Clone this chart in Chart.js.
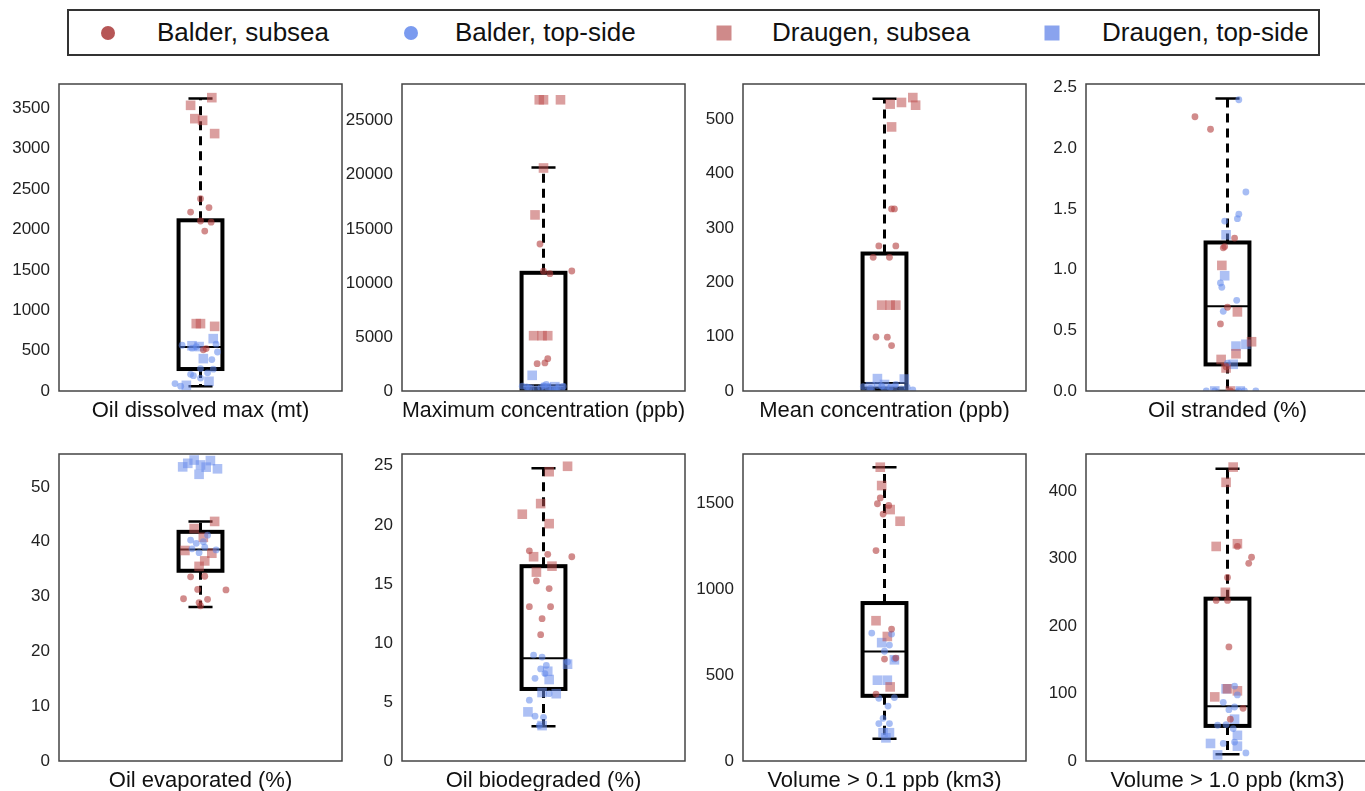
<!DOCTYPE html>
<html>
<head>
<meta charset="utf-8">
<script src="https://cdn.jsdelivr.net/npm/chart.js@4.4.1/dist/chart.umd.min.js"></script>
<style>
  body { margin: 0; width: 1365px; height: 791px; overflow: hidden; background: #fff; font-family: "Liberation Sans", Arial, sans-serif; }
  #legend { position: absolute; left: 67px; top: 9px; width: 1253px; height: 47px; border: 2px solid #333; box-sizing: border-box; }
  .lg-mark { position: absolute; top: 50%; transform: translate(-50%, -50%); }
  .lg-text { position: absolute; top: 50%; transform: translateY(-52%); font-size: 26px; color: #111; white-space: nowrap; }
  canvas { position: absolute; }
</style>
</head>
<body>
<div id="legend"></div>
<div id="panels"></div>
<script>
// ---- data ----
const panelTitles = ["Oil dissolved max (mt)", "Maximum concentration (ppb)", "Mean concentration (ppb)", "Oil stranded (%)",
                     "Oil evaporated (%)", "Oil biodegraded (%)", "Volume > 0.1 ppb (km3)", "Volume > 1.0 ppb (km3)"];
const yMax = [3800, 28400, 565, 2.53, 56, 26, 1790, 455];
const yTicks = [
  [0, 500, 1000, 1500, 2000, 2500, 3000, 3500],
  [0, 5000, 10000, 15000, 20000, 25000],
  [0, 100, 200, 300, 400, 500],
  [0, 0.5, 1.0, 1.5, 2.0, 2.5],
  [0, 10, 20, 30, 40, 50],
  [0, 5, 10, 15, 20, 25],
  [0, 500, 1000, 1500],
  [0, 100, 200, 300, 400]
];
const tickDecimals = [0, 0, 0, 1, 0, 0, 0, 0];
// whisker low, q1, median, q3, whisker high
const boxStats = [
  [58, 272, 545, 2113, 3619],
  [0, 220, 525, 10934, 20687],
  [0, 4.4, 14.7, 253, 538],
  [0, 0.219, 0.698, 1.224, 2.41],
  [28.1, 34.7, 38.6, 41.8, 43.7],
  [2.94, 6.1, 8.7, 16.5, 24.8],
  [130, 380, 638, 921, 1713],
  [10, 52, 81, 240.6, 433]
];

const seriesNames = ["Balder, subsea", "Balder, top-side", "Draugen, subsea", "Draugen, top-side"];

// values per panel, and the horizontal jitter of each point
const balderSubseaY = [
  [2380, 2215, 2270, 2104, 2090, 1980, 525, 510],
  [13600, 11080, 10850, 11100, 2530, 2600, 2990],
  [335, 335, 267, 267, 246, 246, 99.4, 99, 83.6],
  [2.26, 2.157, 1.26, 1.19, 1.18, 0.69, 0.553, 0.2, 0.0],
  [33.6, 33.7, 31.3, 31.2, 29.6, 28.9, 29.5, 28.3],
  [17.8, 17.5, 17.3, 15.25, 14.6, 13.07, 13.07, 12.05, 10.7],
  [1534, 1500, 1440, 1490, 1227, 769, 594, 600, 390],
  [318, 302, 293, 272, 238, 238, 169, 78, 62]
];
const balderSubseaX = [
  [0.0, -0.07, 0.06, 0.0, 0.075, 0.03, 0.04, 0.02],
  [-0.025, 0.0, 0.045, 0.2, -0.045, 0.01, 0.03],
  [0.05, 0.07, -0.04, 0.08, -0.08, 0.035, -0.06, 0.02, 0.05],
  [-0.23, -0.12, 0.05, -0.02, -0.03, 0.0, -0.05, -0.01, 0.02],
  [-0.07, 0.03, -0.02, 0.18, -0.12, -0.01, 0.05, 0.0],
  [-0.1, 0.03, 0.2, -0.05, 0.04, -0.1, 0.05, -0.01, -0.02],
  [-0.03, -0.05, -0.01, 0.03, -0.06, 0.05, 0.0, 0.08, -0.06],
  [0.07, 0.17, 0.15, 0.0, -0.08, 0.0, 0.01, 0.11, 0.02]
];
const balderTopY = [
  [566, 580, 483, 277, 389, 270, 207, 190, 92, 60, 530, 550, 160, 225],
  [450, 300, 200, 500, 350, 150, 250, 420, 380, 100, 600, 320],
  [8, 5, 10, 3, 6, 12, 4, 7, 9, 2],
  [2.40, 1.64, 1.457, 1.42, 1.40, 0.89, 0.855, 0.747, 0.657, 0.23, 0.0, 0.0, 0.0, 0.0, 0.0],
  [40.3, 39.7, 40.0, 41.2, 38.0, 39.0, 38.7, 38.5],
  [8.97, 8.8, 8.4, 8.1, 7.8, 7.0, 7.4, 5.15, 3.8, 3.7, 3.0, 5.7],
  [746, 740, 676, 640, 595, 366, 370, 320, 249, 218, 218],
  [111, 98, 87, 80, 76, 53, 54, 48, 26, 12, 28]
];
const balderTopX = [
  [-0.13, 0.11, 0.12, 0.0, 0.08, 0.09, -0.07, -0.05, -0.18, -0.14, -0.06, -0.03, 0.0, 0.05],
  [-0.15, -0.1, -0.05, 0.0, 0.03, 0.06, 0.1, 0.14, -0.12, 0.08, 0.02, -0.02],
  [-0.15, -0.1, -0.05, 0.0, 0.04, 0.08, 0.12, 0.16, -0.02, 0.2],
  [0.08, 0.13, 0.08, 0.07, -0.02, -0.05, -0.04, 0.065, -0.03, 0.0, -0.15, -0.09, 0.08, 0.2, 0.12],
  [-0.07, -0.03, 0.02, 0.05, -0.01, 0.03, -0.06, 0.11],
  [-0.07, -0.01, 0.17, 0.02, -0.02, -0.06, 0.01, -0.1, -0.06, 0.0, -0.03, 0.04],
  [-0.09, 0.05, 0.035, 0.0, 0.07, -0.04, 0.07, 0.025, -0.01, -0.04, 0.035],
  [0.05, 0.07, -0.03, 0.05, 0.01, -0.07, -0.01, 0.04, -0.03, 0.13, 0.05]
];
const draugenSubseaY = [
  [3631, 3536, 3371, 3350, 3186, 834, 834, 800],
  [26940, 26940, 26940, 20630, 16290, 5116, 5116, 5116],
  [540, 528, 531, 526, 486, 158, 158, 158],
  [1.035, 0.652, 0.406, 0.307, 0.26, 0.19, 0.0],
  [43.7, 42.4, 40.8, 38.4, 37.9, 36.5, 35.5],
  [24.96, 24.5, 21.8, 20.9, 20.1, 17.3, 16.0, 16.5],
  [1713, 1606, 1466, 1398, 818, 726, 432],
  [435.6, 413, 318, 322, 250, 95, 107, 104]
];
const draugenSubseaX = [
  [0.08, -0.07, -0.04, 0.015, 0.10, -0.03, 0.0, 0.10],
  [-0.03, 0.0, 0.12, 0.0, -0.06, -0.07, -0.01, 0.03],
  [0.2, 0.04, 0.12, 0.22, 0.05, -0.02, 0.04, 0.08],
  [-0.04, 0.07, 0.17, 0.06, -0.045, -0.01, 0.02],
  [0.1, -0.045, 0.02, -0.11, 0.08, 0.03, -0.01],
  [0.17, 0.04, -0.02, -0.15, 0.04, -0.07, -0.05, 0.06],
  [-0.03, -0.02, 0.04, 0.11, -0.06, 0.02, 0.04],
  [0.04, -0.01, -0.08, 0.07, -0.015, -0.09, 0.0, 0.07]
];
const draugenTopY = [
  [648, 401, 120, 70, 560, 550],
  [1450, 300, 150, 400, 250],
  [22.8, 22, 8, 5, 12],
  [1.287, 0.95, 0.37, 0.385, 0.22, 0.0, 0.0],
  [53.65, 54.3, 54.9, 54.0, 52.3, 54.8, 53.3, 53.6],
  [8.2, 7.6, 6.9, 5.8, 5.7, 4.16, 3.0],
  [690, 590, 471, 471, 165, 165, 135],
  [107, 62, 38, 26, 22, 9]
];
const draugenTopX = [
  [0.09, 0.02, 0.06, -0.10, -0.06, -0.01],
  [-0.08, 0.02, -0.1, 0.08, 0.12],
  [-0.05, 0.14, -0.1, 0.06, 0.0],
  [-0.01, -0.02, 0.06, 0.13, 0.04, -0.09, 0.09],
  [-0.126, -0.09, -0.045, 0.0, -0.01, 0.07, 0.12, 0.04],
  [0.17, 0.03, 0.04, -0.01, 0.09, -0.11, -0.01],
  [-0.02, 0.07, -0.05, 0.02, -0.01, 0.035, 0.01],
  [-0.01, 0.05, 0.07, -0.12, 0.07, -0.07]
];

// ---- styles / layout ----
const seriesY = [balderSubseaY, balderTopY, draugenSubseaY, draugenTopY];
const seriesX = [balderSubseaX, balderTopX, draugenSubseaX, draugenTopX];
const seriesColors = ["rgba(178,62,62,0.6)", "rgba(95,135,235,0.55)", "rgba(190,80,80,0.55)", "rgba(105,140,235,0.55)"];
const legendColors = ["#b65656", "#7b9bef", "#cf8a8a", "#8aa3ee"];
const seriesShapes = ["circle", "circle", "rect", "rect"];
const seriesRadius = [3.4, 3.4, 6.8, 6.8];

const plotLeft = [59, 402, 743, 1086];
const plotTop = [84, 454];
const plotW = 283, plotH = 307;
const axisW = 70, padTop = 12, padRight = 10, titleH = 40;

Chart.defaults.font.family = "'Liberation Sans', Arial, sans-serif";
Chart.defaults.color = "#222";

// legend
const legend = document.getElementById("legend");
const legendMarkX = [39, 342, 655, 983];
const legendTextX = [88, 386, 703, 1033];
seriesNames.forEach((name, k) => {
  const m = document.createElement("span");
  m.className = "lg-mark";
  const size = seriesShapes[k] === "circle" ? 14 : 15;
  m.style.cssText = `left:${legendMarkX[k]}px;width:${size}px;height:${size}px;background:${legendColors[k]};border-radius:${seriesShapes[k] === "circle" ? "50%" : "0"}`;
  legend.appendChild(m);
  const t = document.createElement("span");
  t.className = "lg-text";
  t.style.left = legendTextX[k] + "px";
  t.textContent = name;
  legend.appendChild(t);
});

function boxPlugin(i) {
  return {
    id: "boxplot" + i,
    beforeDatasetsDraw(chart) {
      const { ctx, chartArea: a, scales: { x, y } } = chart;
      const [lo, q1, med, q3, hi] = boxStats[i];
      const xc = x.getPixelForValue(0);
      const xl = x.getPixelForValue(-0.155), xr = x.getPixelForValue(0.155);
      const cl = x.getPixelForValue(-0.085), cr = x.getPixelForValue(0.085);
      ctx.save();
      ctx.beginPath();
      ctx.rect(a.left, a.top, a.right - a.left, a.bottom - a.top);
      ctx.clip();
      ctx.strokeStyle = "#000";
      // whiskers
      ctx.lineWidth = 3;
      ctx.setLineDash([9, 6]);
      ctx.beginPath();
      ctx.moveTo(xc, y.getPixelForValue(q3)); ctx.lineTo(xc, y.getPixelForValue(hi));
      ctx.moveTo(xc, y.getPixelForValue(q1)); ctx.lineTo(xc, y.getPixelForValue(lo));
      ctx.stroke();
      ctx.setLineDash([]);
      ctx.lineWidth = 2.5;
      ctx.beginPath();
      [lo, hi].forEach(v => {
        const py = y.getPixelForValue(v);
        ctx.moveTo(cl, py); ctx.lineTo(cr, py);
      });
      ctx.stroke();
      // box
      ctx.lineWidth = 4;
      const top = y.getPixelForValue(q3), bot = y.getPixelForValue(q1);
      ctx.strokeRect(xl, top, xr - xl, bot - top);
      ctx.lineWidth = 2;
      ctx.beginPath();
      const pm = y.getPixelForValue(med);
      ctx.moveTo(xl, pm); ctx.lineTo(xr, pm);
      ctx.stroke();
      ctx.restore();
    },
    afterDraw(chart) {
      const { ctx, chartArea: a } = chart;
      ctx.save();
      ctx.strokeStyle = "#444";
      ctx.lineWidth = 1.5;
      ctx.strokeRect(a.left, a.top, a.right - a.left, a.bottom - a.top);
      ctx.restore();
    }
  };
}

const holder = document.getElementById("panels");
panelTitles.forEach((title, i) => {
  const col = i % 4, row = Math.floor(i / 4);
  const canvas = document.createElement("canvas");
  const w = axisW + plotW + padRight, h = padTop + plotH + titleH;
  canvas.width = w; canvas.height = h;
  canvas.style.left = (plotLeft[col] - axisW) + "px";
  canvas.style.top = (plotTop[row] - padTop) + "px";
  canvas.style.width = w + "px"; canvas.style.height = h + "px";
  holder.appendChild(canvas);

  const datasets = seriesNames.map((name, k) => ({
    label: name,
    data: seriesY[k][i].map((v, j) => ({ x: seriesX[k][i][j], y: v })),
    pointStyle: seriesShapes[k],
    pointRadius: seriesRadius[k],
    pointHoverRadius: seriesRadius[k],
    backgroundColor: seriesColors[k],
    borderWidth: 0,
    clip: 0
  }));

  new Chart(canvas, {
    type: "scatter",
    data: { datasets },
    options: {
      responsive: false,
      animation: false,
      devicePixelRatio: 1,
      layout: { padding: { top: padTop, right: padRight, left: 0, bottom: 0 } },
      plugins: { legend: { display: false }, tooltip: { enabled: false } },
      scales: {
        x: {
          type: "linear", min: -1, max: 1,
          ticks: { display: false },
          grid: { display: false, drawTicks: false },
          border: { display: false },
          title: { display: true, text: title, font: { size: 22 }, color: "#111", padding: { top: 0, bottom: 7 } },
          afterFit: s => { s.height = titleH; s.paddingLeft = 0; s.paddingRight = 0; }
        },
        y: {
          min: 0, max: yMax[i],
          grid: { display: false, drawTicks: false },
          border: { display: false },
          ticks: {
            font: { size: 17 }, color: "#222", padding: 9,
            callback: v => v.toFixed(tickDecimals[i])
          },
          afterBuildTicks: s => { s.ticks = yTicks[i].map(v => ({ value: v })); },
          afterFit: s => { s.width = axisW; s.paddingTop = 0; s.paddingBottom = 0; }
        }
      }
    },
    plugins: [boxPlugin(i)]
  });
});
</script>
</body>
</html>
